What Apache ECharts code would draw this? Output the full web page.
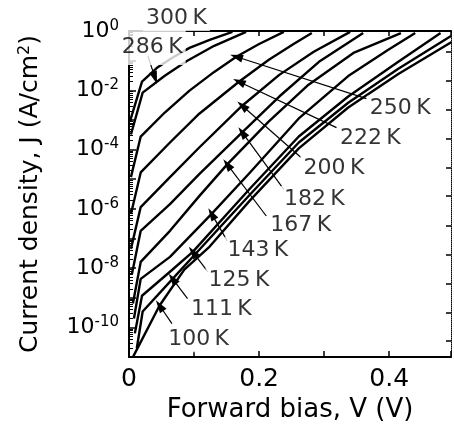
<!DOCTYPE html>
<html>
<head>
<meta charset="utf-8">
<script src="https://cdn.jsdelivr.net/npm/echarts@6/dist/echarts.min.js"></script>
<style>
  html, body { margin: 0; padding: 0; background: #fff; }
  #chart { width: 454px; height: 428px; }
</style>
</head>
<body>
<div id="chart"></div>
<script>
// forward bias V (V) and log10 of J (A/cm2)
var v300 = [0.0015, 0.020, 0.043, 0.066, 0.093, 0.124, 0.159];
var lg300 = [-3.05, -1.71, -1.24, -0.91, -0.57, -0.30, -0.03];
var v286 = [0.003, 0.021, 0.055, 0.089, 0.131, 0.180];
var lg286 = [-3.49, -2.08, -1.51, -1.01, -0.50, -0.03];
var v250 = [0.003, 0.018, 0.055, 0.093, 0.131, 0.165, 0.200, 0.238];
var lg250 = [-4.93, -3.56, -2.75, -2.01, -1.38, -0.87, -0.44, -0.03];
var v222 = [0.003, 0.018, 0.063, 0.108, 0.169, 0.215, 0.253, 0.281];
var lg222 = [-6.17, -4.77, -3.76, -2.79, -1.71, -0.97, -0.44, -0.07];
var v200 = [0.003, 0.018, 0.063, 0.108, 0.174, 0.231, 0.284, 0.340];
var lg200 = [-7.35, -5.94, -4.93, -3.93, -2.52, -1.48, -0.70, -0.03];
var v182 = [0.0046, 0.018, 0.063, 0.108, 0.174, 0.231, 0.292, 0.360];
var lg182 = [-8.19, -6.74, -5.84, -4.83, -3.42, -2.21, -1.04, -0.07];
var v167 = [0.006, 0.018, 0.063, 0.108, 0.151, 0.215, 0.276, 0.345, 0.418];
var lg167 = [-9.19, -7.79, -6.74, -5.57, -4.50, -3.05, -1.81, -0.74, -0.07];
var v143 = [0.0076, 0.018, 0.063, 0.127, 0.185, 0.261, 0.337, 0.398, 0.440];
var lg143 = [-9.70, -8.36, -7.62, -6.17, -4.80, -2.95, -1.52, -0.64, -0.07];
var v125 = [0.009, 0.020, 0.063, 0.098, 0.185, 0.261, 0.337, 0.414, 0.479];
var lg125 = [-10.20, -8.93, -8.12, -7.45, -5.34, -3.56, -2.21, -1.04, -0.07];
var v111 = [0.012, 0.021, 0.067, 0.108, 0.185, 0.261, 0.337, 0.414, 0.495];
var lg111 = [-10.70, -9.46, -8.36, -7.38, -5.54, -3.76, -2.42, -1.27, -0.17];
var v100 = [0.006, 0.047, 0.085, 0.124, 0.185, 0.261, 0.337, 0.414, 0.496];
var lg100 = [-11.0, -9.26, -8.05, -7.27, -5.74, -3.96, -2.58, -1.45, -0.37];

// temperature labels: where the text sits, where the arrow starts and ends (V, log10 J)
var labelNames = ['300\u2009K', '286\u2009K', '250\u2009K', '222\u2009K', '200\u2009K', '182\u2009K',
                  '167\u2009K', '143\u2009K', '125\u2009K', '111\u2009K', '100\u2009K'];
var labelV = [0.073, 0.035, 0.417, 0.371, 0.315, 0.285, 0.264, 0.198, 0.169, 0.142, 0.107];
var labelLg = [0.44, -0.54, -2.62, -3.62, -4.63, -5.67, -6.54, -7.38, -8.42, -9.40, -10.40];
var tailV = [0.124, 0.029, 0.365, 0.319, 0.264, 0.238, 0.211, 0.151, 0.121, 0.090, 0.066];
var tailLg = [0.30, -0.84, -2.28, -3.26, -4.26, -5.34, -6.24, -7.08, -8.12, -9.03, -9.87];
var tipV = [0.142, 0.040, 0.165, 0.169, 0.174, 0.174, 0.151, 0.127, 0.098, 0.067, 0.047];
var tipLg = [-0.20, -1.58, -0.87, -1.71, -2.52, -3.42, -4.50, -6.17, -7.45, -8.36, -9.26];

var xTickLabels = ['0', '', '0.2', '', '0.4'];
// short ticks on the right frame edge (log10 J)
var rightTickLg = [-0.70, -1.68, -2.65, -3.62, -4.60, -5.57, -6.58, -7.55, -8.52, -9.50, -10.44];

var font = 'DejaVu Sans';
var curves = [
    [v300, lg300], [v286, lg286], [v250, lg250], [v222, lg222], [v200, lg200], [v182, lg182],
    [v167, lg167], [v143, lg143], [v125, lg125], [v111, lg111], [v100, lg100]
];

var series = curves.map(function (c) {
    return {
        type: 'line',
        data: c[0].map(function (v, i) { return [v, Math.pow(10, c[1][i])]; }),
        showSymbol: false,
        smooth: false,
        lineStyle: { color: '#000', width: 2.4, join: 'round' },
        silent: true,
        z: 2
    };
});

// minor log ticks 2..9 per decade
var minorTicks = [];
for (var e = -11; e < 0; e++) {
    for (var m = 2; m <= 9; m++) minorTicks.push(m * Math.pow(10, e));
}

series.push({
    type: 'scatter',
    yAxisIndex: 0,
    symbolSize: 0,
    clip: false,
    silent: true,
    z: 10,
    data: labelNames.map(function (n, i) {
        var item = { name: n, value: [labelV[i], Math.pow(10, labelLg[i])] };
        // the 286 K box hides the top-left corner of the frame
        if (i === 1) item.label = { padding: [11, 3, 3, 4] };
        return item;
    }),
    label: {
        show: true,
        position: 'inside',
        formatter: '{b}',
        color: '#000',
        fontFamily: font,
        fontSize: 22,
        backgroundColor: '#fff',
        padding: [2, 3, 2, 3]
    },
    markLine: {
        silent: true,
        animation: false,
        label: { show: false },
        lineStyle: { color: '#000', width: 1.2, type: 'solid' },
        data: labelNames.map(function (n, i) {
            return [
                { coord: [tailV[i], Math.pow(10, tailLg[i])], symbol: 'none' },
                { coord: [tipV[i], Math.pow(10, tipLg[i])], symbol: 'triangle', symbolSize: [8, 13] }
            ];
        })
    }
});

var chart = echarts.init(document.getElementById('chart'));
chart.setOption({
    animation: false,
    backgroundColor: '#fff',
    grid: { left: 129, right: 1, top: 31, bottom: 69 },
    xAxis: [{
        type: 'value',
        position: 'bottom',
        min: 0,
        max: 0.495,
        interval: 0.1,
        axisLine: { lineStyle: { color: '#000', width: 2 } },
        axisTick: { inside: true, length: 6, lineStyle: { color: '#000', width: 1.5 } },
        axisLabel: {
            color: '#000', fontFamily: font, fontSize: 25, margin: 10,
            formatter: function (v) {
                var i = Math.round(v * 10);
                return Math.abs(v * 10 - i) < 1e-6 && xTickLabels[i] ? xTickLabels[i] : '';
            }
        },
        splitLine: { show: false },
        name: 'Forward bias, V (V)',
        nameLocation: 'middle',
        nameGap: 38,
        nameTextStyle: { color: '#000', fontFamily: font, fontSize: 26 }
    }, {
        type: 'value',
        position: 'top',
        min: 0,
        max: 0.495,
        interval: 0.1,
        axisLine: { lineStyle: { color: '#000', width: 2 } },
        axisTick: { inside: true, length: 5, lineStyle: { color: '#000', width: 1.5 } },
        axisLabel: { show: false },
        splitLine: { show: false }
    }],
    yAxis: [{
        type: 'log',
        logBase: 10,
        position: 'left',
        min: 1e-11,
        max: 1,
        interval: 1,
        axisLine: { lineStyle: { color: '#000', width: 2 } },
        axisTick: { inside: true, length: 7, lineStyle: { color: '#000', width: 1.5 } },
        axisLabel: {
            color: '#000', fontFamily: font, margin: 10,
            formatter: function (v) {
                var e = Math.round(Math.log10(v));
                if (e % 2 !== 0) return '';
                return '{b|10}{s|' + e + '}';
            },
            rich: {
                b: { fontFamily: font, fontSize: 22, color: '#000' },
                s: { fontFamily: font, fontSize: 15, color: '#000', verticalAlign: 'top', padding: [0, 0, 10, 0] }
            }
        },
        splitLine: { show: false },
        name: 'Current density, J (A/cm{s|2})',
        nameLocation: 'middle',
        nameGap: 86,
        nameTextStyle: {
            color: '#000', fontFamily: font, fontSize: 25,
            rich: { s: { fontFamily: font, fontSize: 16, color: '#000', verticalAlign: 'top', padding: [0, 0, 10, 0] } }
        }
    }, {
        type: 'log',
        logBase: 10,
        position: 'left',
        min: 1e-11,
        max: 1,
        axisLine: { show: false },
        axisTick: { inside: true, length: 4, customValues: minorTicks, lineStyle: { color: '#000', width: 1 } },
        axisLabel: { show: false },
        splitLine: { show: false }
    }, {
        type: 'log',
        logBase: 10,
        position: 'right',
        min: 1e-11,
        max: 1,
        axisLine: { lineStyle: { color: '#000', width: 1, type: 'dotted' } },
        axisTick: {
            inside: true, length: 5,
            customValues: rightTickLg.map(function (l) { return Math.pow(10, l); }),
            lineStyle: { color: '#000', width: 1.5 }
        },
        axisLabel: { show: false },
        splitLine: { show: false }
    }],
    series: series
});
</script>
</body>
</html>
